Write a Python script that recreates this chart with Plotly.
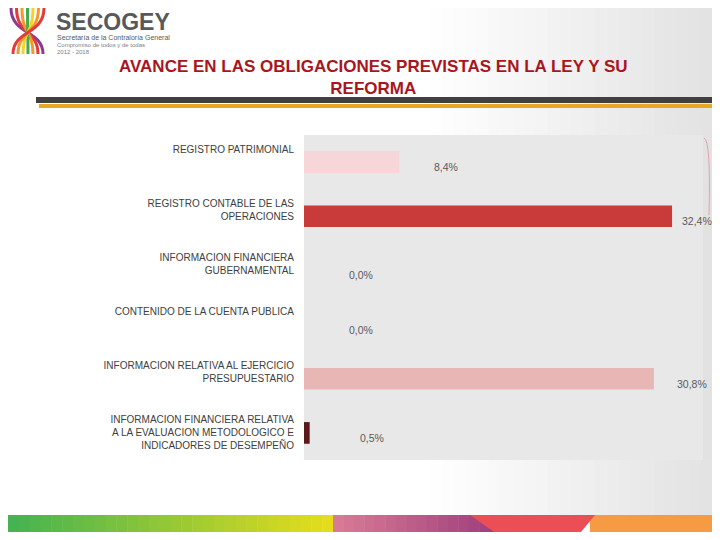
import plotly.graph_objects as go

categories = [
    "REGISTRO PATRIMONIAL",
    "REGISTRO CONTABLE DE LAS<br>OPERACIONES",
    "INFORMACION FINANCIERA<br>GUBERNAMENTAL",
    "CONTENIDO DE LA CUENTA PUBLICA",
    "INFORMACION RELATIVA AL EJERCICIO<br>PRESUPUESTARIO",
    "INFORMACION FINANCIERA RELATIVA<br>A LA EVALUACION METODOLOGICO E<br>INDICADORES DE DESEMPEÑO",
]
values = [8.4, 32.4, 0.0, 0.0, 30.8, 0.5]
value_labels = ["8,4%", "32,4%", "0,0%", "0,0%", "30,8%", "0,5%"]
bar_colors = ["#F6D6D9", "#C93A3B", "#E9B9BA", "#E9B9BA", "#E9B6B6", "#5A1A1A"]
label_dx = [33, 8, 43, 43, 21, 48]

OFF = 8                      # browser body margin
SW, SH = 720, 540            # screen size
W, H = SW - 2 * OFF, SH - 2 * OFF    # figure size (no page overflow)
L, R, T, B = 304, 703, 135, 460   # plot area in screen pixels
RE = SW - OFF                 # right edge of the figure in screen pixels
BE = SH - OFF                 # bottom edge of the figure in screen pixels

def px(x):
    return (x - L) / (R - L)

def py(y):
    return (B - y) / (B - T)

# tick labels laid out in 3-line boxes (top aligned) as in the original
tick_text = [c + "<br>\u00a0" * (2 - c.count("<br>")) for c in categories]

fig = go.Figure()
fig.add_trace(go.Bar(
    x=values, y=categories, orientation="h",
    marker=dict(color=bar_colors, line=dict(width=0)),
    width=0.4, hoverinfo="skip",
))

annotations = []
for c, v, t, dx in zip(categories, values, value_labels, label_dx):
    annotations.append(dict(
        x=v, y=c, xref="x", yref="y", text=t, showarrow=False,
        xanchor="left", xshift=dx, yshift=-5,
        font=dict(family="Liberation Sans", size=10.5, color="#5A5A5A"),
    ))

# Title
annotations.append(dict(
    x=px(373), y=py(77), xref="paper", yref="paper",
    text="AVANCE EN LAS OBLIGACIONES PREVISTAS EN LA LEY Y SU<br>REFORMA",
    showarrow=False, xanchor="center", yanchor="middle",
    font=dict(family="Liberation Sans", size=17, color="#A8161C", weight="bold"),
))

# Logo text
annotations += [
    dict(x=px(54), y=py(22), xref="paper", yref="paper", text="<b>SECOGEY</b>",
         showarrow=False, xanchor="left", yanchor="middle",
         font=dict(family="Liberation Sans", size=23, color="#58595B")),
    dict(x=px(55), y=py(38), xref="paper", yref="paper",
         text="Secretaría de la Contraloría General", showarrow=False,
         xanchor="left", yanchor="middle",
         font=dict(family="Liberation Sans", size=7, color="#58595B")),
    dict(x=px(55), y=py(45), xref="paper", yref="paper",
         text="Compromiso de todos y de todas", showarrow=False,
         xanchor="left", yanchor="middle",
         font=dict(family="Liberation Sans", size=6, color="#808080")),
    dict(x=px(55), y=py(52), xref="paper", yref="paper",
         text="2012 - 2018", showarrow=False,
         xanchor="left", yanchor="middle",
         font=dict(family="Liberation Sans", size=6, color="#808080")),
]

shapes = []

def h2r(h):
    h = h.lstrip("#")
    return [int(h[k:k + 2], 16) for k in (0, 2, 4)]

def mix(c0, c1, f):
    a, b = h2r(c0), h2r(c1)
    return "rgb({},{},{})".format(*[round(a[k] + (b[k] - a[k]) * f) for k in range(3)])

# Soft grey page gradient towards the right (outside the plot area)
gsteps = 24
gx0, gx1 = 430, RE
for s in range(gsteps):
    f = (s + 0.5) / gsteps
    col = mix("#FFFFFF", "#E2E2E2", f)
    xa = gx0 + (gx1 - gx0) * s / gsteps
    xb = gx0 + (gx1 - gx0) * (s + 1) / gsteps + 0.5
    for ya, yb in ((OFF, T), (B, 515)):
        shapes.append(dict(type="rect", xref="paper", yref="paper", layer="above",
                           x0=px(xa), x1=px(xb), y0=py(yb), y1=py(ya),
                           fillcolor=col, line=dict(width=0)))
shapes.append(dict(type="rect", xref="paper", yref="paper", layer="above",
                   x0=px(R), x1=px(RE), y0=py(B), y1=py(T),
                   fillcolor="#E2E2E2", line=dict(width=0)))

# Logo icon: colourful strands
strand_colors = ["#8B3A8F", "#E23B3B", "#F39A2B", "#3FAA4E", "#F4D32A", "#F39A2B", "#E23B3B"]
for i, col in enumerate(strand_colors):
    x0 = 11 + i * 5.5
    x1 = 43 - i * 5.0
    path = (f"M {px(x0)},{py(8)} C {px(x0)},{py(35)} {px(x1)},{py(30)} {px(x1)},{py(54)}")
    shapes.append(dict(type="path", path=path, xref="paper", yref="paper",
                       line=dict(color=col, width=3), layer="above"))

# Rules below title
shapes.append(dict(type="rect", xref="paper", yref="paper",
                   x0=px(36), x1=px(RE), y0=py(103), y1=py(97),
                   fillcolor="#404040", line=dict(width=0)))
shapes.append(dict(type="rect", xref="paper", yref="paper",
                   x0=px(39), x1=px(RE), y0=py(108), y1=py(104),
                   fillcolor="#E6A823", line=dict(width=0)))

# Bottom colour band
def grad(x0, x1, c0, c1, steps, y0=515, y1=BE):
    for s in range(steps):
        f = s / max(steps - 1, 1)
        col = mix(c0, c1, f)
        xa = x0 + (x1 - x0) * s / steps
        xb = x0 + (x1 - x0) * (s + 1) / steps + 0.5
        shapes.append(dict(type="rect", xref="paper", yref="paper",
                           x0=px(xa), x1=px(xb), y0=py(y1), y1=py(y0),
                           fillcolor=col, line=dict(width=0), layer="above"))

grad(OFF, 333, "#45B351", "#E5DD1B", 30)
grad(333, 500, "#D87A95", "#9E3E7C", 16)
grad(590, RE, "#F79A44", "#F79A44", 1)
shapes.append(dict(type="path", xref="paper", yref="paper",
                   path=f"M {px(470)},{py(515)} L {px(595)},{py(515)} L {px(581)},{py(BE)} L {px(494)},{py(BE)} Z",
                   fillcolor="#EB4E55", line=dict(width=0), layer="above"))

# Right side decorative curve
shapes.append(dict(type="path", xref="paper", yref="paper",
                   path=f"M {px(704)},{py(138)} Q {px(711)},{py(140)} {px(709)},{py(215)}",
                   line=dict(color="#E8A0A8", width=1), layer="above"))

fig.update_layout(
    width=W, height=H,
    margin=dict(l=L - OFF, r=RE - R, t=T - OFF, b=BE - B),
    paper_bgcolor="white",
    plot_bgcolor="#E8E8E8",
    showlegend=False,
    xaxis=dict(range=[0, (R - L) / 11.36], visible=False, fixedrange=True),
    yaxis=dict(
        autorange="reversed", showgrid=False, zeroline=False, showline=False,
        ticks="", ticklabelstandoff=9,
        tickmode="array", tickvals=categories, ticktext=tick_text,
        tickfont=dict(family="Liberation Sans", size=10, color="#404040"),
    ),
    annotations=annotations,
    shapes=shapes,
)

fig.write_html("out.html")
